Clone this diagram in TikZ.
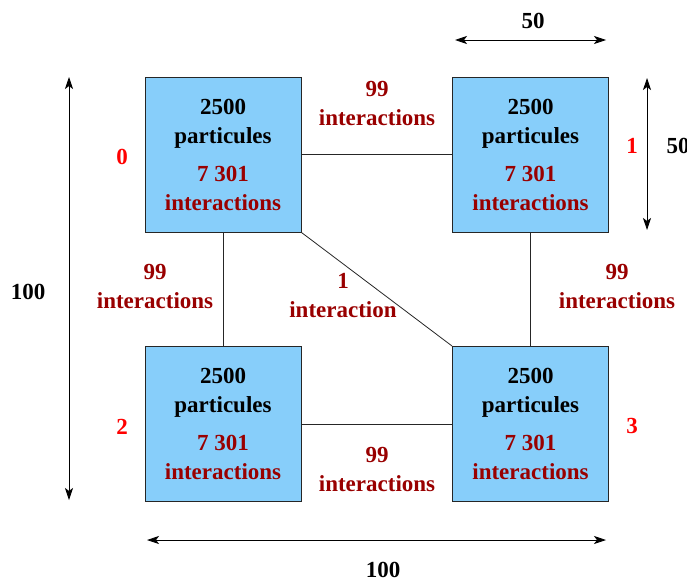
\documentclass[tikz,border=0pt]{standalone}
\usepackage{fontspec}
\setmainfont{Liberation Serif}
\usetikzlibrary{arrows.meta}
\definecolor{boxblue}{RGB}{135,206,250}
\definecolor{darkred}{RGB}{153,0,0}
\begin{document}
\begin{tikzpicture}[x=1pt,y=-1pt,
  every node/.style={font=\bfseries\fontsize{23}{29}\selectfont},
  cell/.style={draw=black!85, line width=1pt, fill=boxblue, minimum width=156pt, minimum height=155pt, inner sep=0pt, align=center},
  link/.style={draw=black!85, line width=0.8pt},
  elabel/.style={text=darkred, align=center, inner sep=0pt},
  idx/.style={text=red, inner sep=0pt},
  dim/.style={line width=0.8pt, {Stealth[length=12pt,width=8pt,inset=3pt]}-{Stealth[length=12pt,width=8pt,inset=3pt]}},
  dimlabel/.style={text=black, inner sep=0pt}]
\useasboundingbox (0,0) rectangle (687,578);
\newcommand{\cellcontent}{2500\\particules\\[9pt]\textcolor{darkred}{7 301}\\\textcolor{darkred}{interactions}}
\node[cell] (b0) at (223,154.5) {\cellcontent};
\node[cell] (b1) at (530.5,154.5) {\cellcontent};
\node[cell] (b2) at (223,424) {\cellcontent};
\node[cell] (b3) at (530.5,424) {\cellcontent};
\draw[link] (b0.east) -- (b1.west);
\draw[link] (b0.south) -- (b2.north);
\draw[link] (b1.south) -- (b3.north);
\draw[link] (b2.east) -- (b3.west);
\draw[link] (b0.south east) -- (b3.north west);
\node[elabel] (l01) at (377,103) {99\\interactions};
\node[elabel] (l02) at (155,286) {99\\interactions};
\node[elabel] (l13) at (617,286) {99\\interactions};
\node[elabel] (l23) at (377,469) {99\\interactions};
\node[elabel] (l03) at (343,296) {1\\interaction};
\node[idx] (i0) at (122,157) {0};
\node[idx] (i1) at (632,146) {1};
\node[idx] (i2) at (122,427) {2};
\node[idx] (i3) at (632,426) {3};
\coordinate (ta) at (455,40); \coordinate (tb) at (606,40);
\draw[dim] (ta) -- (tb);
\node[dimlabel] (tl) at (533,21) {50};
\coordinate (ra) at (647,78); \coordinate (rb) at (647,230);
\draw[dim] (ra) -- (rb);
\node[dimlabel] (rl) at (678,146) {50};
\coordinate (la) at (69,77); \coordinate (lb) at (69,500);
\draw[dim] (la) -- (lb);
\node[dimlabel] (ll) at (28,292) {100};
\coordinate (ba) at (147,540); \coordinate (bb) at (606,540);
\draw[dim] (ba) -- (bb);
\node[dimlabel] (bl) at (383,570) {100};
\end{tikzpicture}
\end{document}
